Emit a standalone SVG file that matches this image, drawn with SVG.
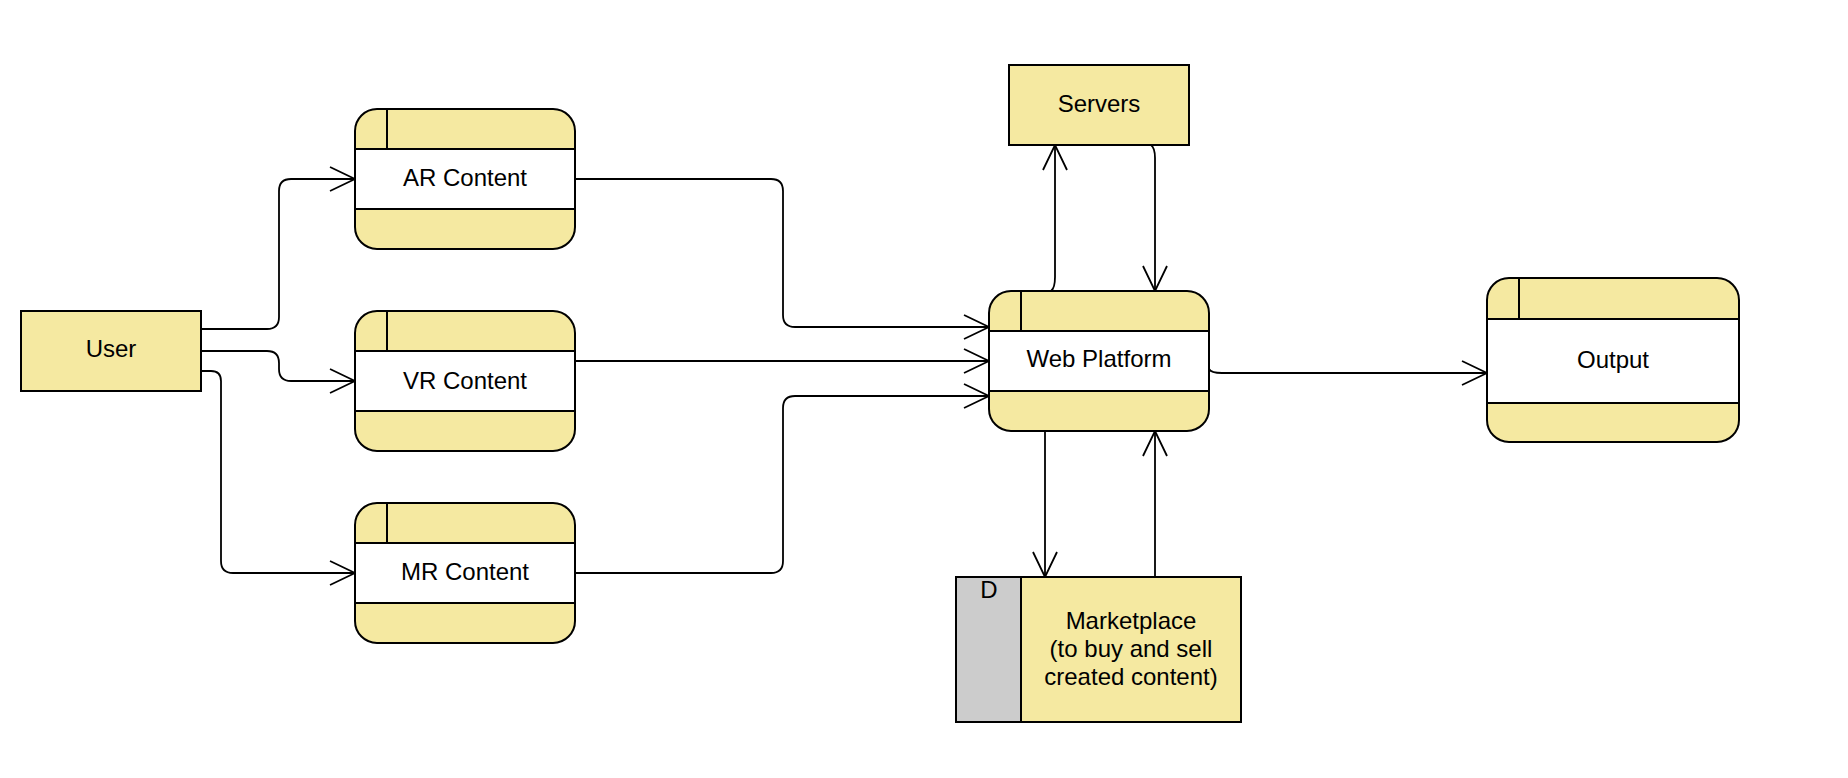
<svg xmlns="http://www.w3.org/2000/svg" width="1848" height="778" viewBox="0 0 1848 778">
<style>
.y{fill:#F5E9A1;stroke:none}
.w{fill:#FFFFFF;stroke:none}
.o{fill:none;stroke:#000;stroke-width:2}
.l{stroke:#000;stroke-width:2}
.c{fill:none;stroke:#000;stroke-width:1.8}
text{font-family:"Liberation Sans",Arial,Helvetica,sans-serif;font-size:24px;fill:#000;text-anchor:middle}
</style>
<defs>
<marker id="arr" viewBox="-27 -14 29 28" refX="0" refY="0" markerWidth="29" markerHeight="28" markerUnits="userSpaceOnUse" orient="auto">
<path d="M-25,-12 L0,0 L-25,12" fill="none" stroke="#000" stroke-width="1.8"/>
</marker>
</defs>
<rect width="1848" height="778" fill="#FFFFFF"/>

<g id="connectors">
<path class="c" d="M201,329 H267 Q279,329 279,317 V191 Q279,179 291,179 H355" marker-end="url(#arr)"/>
<path class="c" d="M201,351 H267 Q279,351 279,363 V369 Q279,381 291,381 H355" marker-end="url(#arr)"/>
<path class="c" d="M201,371 H211 Q221,371 221,381 V561 Q221,573 233,573 H355" marker-end="url(#arr)"/>
<path class="c" d="M575,179 H771 Q783,179 783,191 V315 Q783,327 795,327 H989" marker-end="url(#arr)"/>
<path class="c" d="M575,361 H989" marker-end="url(#arr)"/>
<path class="c" d="M575,573 H771 Q783,573 783,561 V408 Q783,396 795,396 H989" marker-end="url(#arr)"/>
<path class="c" d="M1051,291 Q1055,288 1055,277 V145" marker-end="url(#arr)"/>
<path class="c" d="M1151,145 Q1155,148 1155,158 V291" marker-end="url(#arr)"/>
<path class="c" d="M1209,369 Q1211,373 1222,373 H1487" marker-end="url(#arr)"/>
<path class="c" d="M1045,431 V577" marker-end="url(#arr)"/>
<path class="c" d="M1155,577 V431" marker-end="url(#arr)"/>
</g>

<g id="user">
<rect x="21" y="311" width="180" height="80" fill="#F5E9A1" stroke="#000" stroke-width="2"/>
<text x="111" y="357">User</text>
</g>

<g id="ar-content">
<rect class="y" x="355" y="109" width="220" height="140" rx="22"/>
<rect class="w" x="355" y="149" width="220" height="60"/>
<rect class="o" x="355" y="109" width="220" height="140" rx="22"/>
<line class="l" x1="355" y1="149" x2="575" y2="149"/>
<line class="l" x1="355" y1="209" x2="575" y2="209"/>
<line class="l" x1="387" y1="109" x2="387" y2="149"/>
<text x="465" y="186">AR Content</text>
</g>

<g id="vr-content">
<rect class="y" x="355" y="311" width="220" height="140" rx="22"/>
<rect class="w" x="355" y="351" width="220" height="60"/>
<rect class="o" x="355" y="311" width="220" height="140" rx="22"/>
<line class="l" x1="355" y1="351" x2="575" y2="351"/>
<line class="l" x1="355" y1="411" x2="575" y2="411"/>
<line class="l" x1="387" y1="311" x2="387" y2="351"/>
<text x="465" y="389">VR Content</text>
</g>

<g id="mr-content">
<rect class="y" x="355" y="503" width="220" height="140" rx="22"/>
<rect class="w" x="355" y="543" width="220" height="60"/>
<rect class="o" x="355" y="503" width="220" height="140" rx="22"/>
<line class="l" x1="355" y1="543" x2="575" y2="543"/>
<line class="l" x1="355" y1="603" x2="575" y2="603"/>
<line class="l" x1="387" y1="503" x2="387" y2="543"/>
<text x="465" y="580">MR Content</text>
</g>

<g id="servers">
<rect x="1009" y="65" width="180" height="80" fill="#F5E9A1" stroke="#000" stroke-width="2"/>
<text x="1099" y="112">Servers</text>
</g>

<g id="web-platform">
<rect class="y" x="989" y="291" width="220" height="140" rx="22"/>
<rect class="w" x="989" y="331" width="220" height="60"/>
<rect class="o" x="989" y="291" width="220" height="140" rx="22"/>
<line class="l" x1="989" y1="331" x2="1209" y2="331"/>
<line class="l" x1="989" y1="391" x2="1209" y2="391"/>
<line class="l" x1="1021" y1="291" x2="1021" y2="331"/>
<text x="1099" y="367">Web Platform</text>
</g>

<g id="output">
<rect class="y" x="1487" y="278" width="252" height="164" rx="22"/>
<rect class="w" x="1487" y="319" width="252" height="84"/>
<rect class="o" x="1487" y="278" width="252" height="164" rx="22"/>
<line class="l" x1="1487" y1="319" x2="1739" y2="319"/>
<line class="l" x1="1487" y1="403" x2="1739" y2="403"/>
<line class="l" x1="1519" y1="278" x2="1519" y2="319"/>
<text x="1613" y="368">Output</text>
</g>

<g id="marketplace">
<rect x="956" y="577" width="285" height="145" fill="#F5E9A1" stroke="none"/>
<rect x="956" y="577" width="65" height="145" fill="#CCCCCC" stroke="none"/>
<rect class="o" x="956" y="577" width="285" height="145"/>
<line class="l" x1="1021" y1="577" x2="1021" y2="722"/>
<text x="989" y="598">D</text>
<text x="1131" y="629">Marketplace</text>
<text x="1131" y="657">(to buy and sell</text>
<text x="1131" y="685">created content)</text>
</g>
</svg>
